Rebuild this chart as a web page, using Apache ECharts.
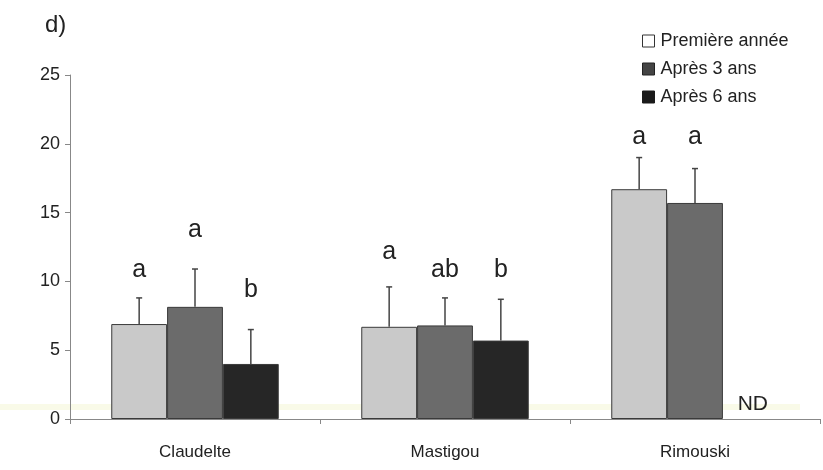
<!DOCTYPE html>
<html>
<head>
<meta charset="utf-8">
<script src="https://cdn.jsdelivr.net/npm/echarts@6/dist/echarts.min.js"></script>
<style>html,body{margin:0;padding:0;background:#fff}#c{width:823px;height:470px}</style>
</head>
<body>
<div id="c"></div>
<script>
var categories = ['Claudelte', 'Mastigou', 'Rimouski'];
var seriesNames = ['Première année', 'Après 3 ans', 'Après 6 ans'];
var firstYear = [6.9, 6.7, 16.7];
var after3 = [8.15, 6.8, 15.7];
var after6 = [4.0, 5.7, null];
var firstYearErr = [1.9, 2.9, 2.3];
var after3Err = [2.75, 2.0, 2.5];
var after6Err = [2.5, 3.0, null];
var firstYearLetters = ['a', 'a', 'a'];
var after3Letters = ['a', 'ab', 'a'];
var after6Letters = ['b', 'b', 'ND'];
var firstYearLetterLevel = [10.8, 12.1, 20.5];
var after3LetterLevel = [13.7, 10.8, 20.5];
var after6LetterLevel = [9.4, 10.8, 1.1];
var yTicks = [0, 5, 10, 15, 20, 25];

var FONT = 'Liberation Sans, Arial, sans-serif';
var colors = ['#c9c9c9', '#6b6b6b', '#262626'];
var values = [firstYear, after3, after6];
var errs = [firstYearErr, after3Err, after6Err];
var letters = [firstYearLetters, after3Letters, after6Letters];
var letterLevels = [firstYearLetterLevel, after3LetterLevel, after6LetterLevel];
var CAT_GAP = 0.33;

function offsetFor(api, s) {
  var band = api.size([1, 0])[0];
  var bw = band * (1 - CAT_GAP) / 3;
  return (s - 1) * bw;
}

var series = [];
values.forEach(function (vals, s) {
  series.push({
    name: seriesNames[s],
    type: 'bar',
    data: vals,
    barGap: '0%',
    barCategoryGap: (CAT_GAP * 100) + '%',
    itemStyle: { color: colors[s], borderColor: '#3a3a3a', borderWidth: 1 },
    emphasis: { disabled: true },
    silent: true,
    z: 2
  });
});

values.forEach(function (vals, s) {
  var d = [];
  vals.forEach(function (v, i) { if (v != null && errs[s][i] != null) d.push([i, v, v + errs[s][i]]); });
  series.push({
    type: 'custom',
    silent: true,
    z: 3,
    data: d,
    renderItem: function (params, api) {
      var i = api.value(0);
      var off = offsetFor(api, s);
      var p0 = api.coord([i, api.value(1)]);
      var p1 = api.coord([i, api.value(2)]);
      var x = p0[0] + off;
      return {
        type: 'group',
        children: [
          { type: 'line', shape: { x1: x, y1: p0[1], x2: x, y2: p1[1] }, style: { stroke: '#444', lineWidth: 1.5 } },
          { type: 'line', shape: { x1: x - 3, y1: p1[1], x2: x + 3, y2: p1[1] }, style: { stroke: '#444', lineWidth: 1.5 } }
        ]
      };
    }
  });
});

values.forEach(function (vals, s) {
  var d = [];
  letters[s].forEach(function (t, i) { d.push([i, letterLevels[s][i], t]); });
  series.push({
    type: 'custom',
    silent: true,
    z: 4,
    data: d,
    renderItem: function (params, api) {
      var i = api.value(0);
      var off = offsetFor(api, s);
      var p = api.coord([i, api.value(1)]);
      var t = letters[s][i];
      var isND = t === 'ND';
      return {
        type: 'text',
        x: p[0] + off + (isND ? 2 : 0),
        y: p[1],
        style: {
          text: t,
          fill: '#222',
          font: (isND ? '21px ' : '25px ') + FONT,
          textAlign: 'center',
          textVerticalAlign: 'middle'
        }
      };
    }
  });
});

var chart = echarts.init(document.getElementById('c'), null, { renderer: 'canvas' });
chart.setOption({
  animation: false,
  backgroundColor: '#fff',
  textStyle: { fontFamily: FONT },
  title: {
    text: 'd)', left: 40, top: 8,
    textStyle: { fontSize: 24, fontWeight: 'normal', color: '#222', fontFamily: FONT }
  },
  legend: {
    orient: 'vertical',
    left: 637, top: 26,
    itemWidth: 12, itemHeight: 12, itemGap: 8,
    selectedMode: false,
    textStyle: { fontSize: 18, color: '#222', fontFamily: FONT, lineHeight: 20, padding: [0, 0, 0, 1] },
    data: [
      { name: seriesNames[0], icon: 'rect', itemStyle: { color: '#fff', borderColor: '#333', borderWidth: 1 } },
      { name: seriesNames[1], icon: 'rect', itemStyle: { color: '#444', borderColor: '#222', borderWidth: 1 } },
      { name: seriesNames[2], icon: 'rect', itemStyle: { color: '#1a1a1a', borderColor: '#1a1a1a', borderWidth: 1 } }
    ]
  },
  graphic: [
    { type: 'rect', shape: { x: 0, y: 404, width: 800, height: 6 }, style: { fill: 'rgba(235,240,180,0.3)' }, z: 0, silent: true }
  ],
  grid: { left: 70, right: 3, top: 75, bottom: 51 },
  xAxis: {
    type: 'category',
    data: categories,
    boundaryGap: true,
    axisLine: { lineStyle: { color: '#888', width: 1 } },
    axisTick: { show: true, length: 5, lineStyle: { color: '#888' } },
    axisLabel: { fontSize: 17, color: '#222', margin: 25, fontFamily: FONT }
  },
  yAxis: {
    type: 'value',
    min: yTicks[0], max: yTicks[yTicks.length - 1], interval: 5,
    axisLine: { show: true, lineStyle: { color: '#888', width: 1 } },
    axisTick: { show: true, length: 5, lineStyle: { color: '#888' } },
    splitLine: { show: false },
    axisLabel: { fontSize: 18, color: '#222', margin: 10, fontFamily: FONT }
  },
  series: series
});
</script>
</body>
</html>
